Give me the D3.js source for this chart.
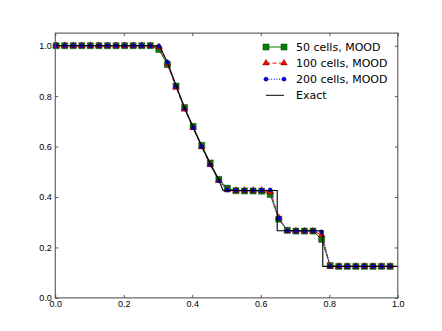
<!DOCTYPE html>
<html>
<head>
<meta charset="utf-8">
<script src="https://cdn.jsdelivr.net/npm/d3@7"></script>
<style>
body { margin: 0; background: #fff; }
svg { display: block; font-family: 'DejaVu Sans', sans-serif; }
.tick text { font-size: 9px; fill: #000; }
.legend-text { font-size: 11px; fill: #000; }
</style>
</head>
<body>
<svg id="chart" width="442" height="331"></svg>
<script>
var cellX = [0.0025, 0.0275, 0.0525, 0.0775, 0.1025, 0.1275, 0.1525, 0.1775, 0.2025, 0.2275,
	0.2525, 0.2775, 0.3025, 0.3275, 0.3525, 0.3775, 0.4025, 0.4275, 0.4525, 0.4775,
	0.5025, 0.5275, 0.5525, 0.5775, 0.6025, 0.6275, 0.6525, 0.6775, 0.7025, 0.7275,
	0.7525, 0.7775, 0.8025, 0.8275, 0.8525, 0.8775, 0.9025, 0.9275, 0.9525, 0.9775];

var cells50 = [1, 1, 1, 1, 1, 1, 1, 1, 1, 1, 1, 1,
	0.985, 0.925, 0.84, 0.755, 0.68, 0.605, 0.535, 0.47, 0.435,
	0.425, 0.424, 0.424, 0.423, 0.41, 0.312, 0.268, 0.265, 0.265, 0.265, 0.232, 0.128,
	0.125, 0.125, 0.125, 0.125, 0.125, 0.125, 0.125];

var cells100 = [1, 1, 1, 1, 1, 1, 1, 1, 1, 1, 1, 1,
	0.995, 0.93, 0.835, 0.748, 0.675, 0.598, 0.528, 0.465, 0.428,
	0.426, 0.426, 0.426, 0.426, 0.42, 0.318, 0.266, 0.265, 0.265, 0.265, 0.25, 0.125,
	0.125, 0.125, 0.125, 0.125, 0.125, 0.125, 0.125];

var cells200 = [1, 1, 1, 1, 1, 1, 1, 1, 1, 1, 1, 1,
	0.998, 0.935, 0.838, 0.75, 0.675, 0.6, 0.528, 0.465, 0.427,
	0.426, 0.426, 0.426, 0.426, 0.428, 0.316, 0.266, 0.265, 0.265, 0.265, 0.262, 0.125,
	0.125, 0.125, 0.125, 0.125, 0.125, 0.125, 0.125];

var exactX = [0, 0.305, 0.33, 0.355, 0.38, 0.405, 0.43, 0.455, 0.475, 0.49, 0.648, 0.648, 0.781, 0.781, 1.0];
var exactY = [1, 1, 0.925, 0.835, 0.745, 0.668, 0.594, 0.525, 0.474, 0.426, 0.426, 0.266, 0.266, 0.125, 0.125];

var xTicks = [0, 0.2, 0.4, 0.6, 0.8, 1.0];
var yTicks = [0, 0.2, 0.4, 0.6, 0.8, 1.0];
var legendLabels = ['50 cells, MOOD', '100 cells, MOOD', '200 cells, MOOD', 'Exact'];

var plotLeft = 55.25, plotRight = 397.8, plotTop = 33.1, plotBottom = 297.9;

var svg = d3.select('#chart');

var x = d3.scaleLinear().domain([0, 1]).range([plotLeft, plotRight]);
var y = d3.scaleLinear().domain([0, 1.05]).range([plotBottom, plotTop]);

var series = [
	{name: legendLabels[0], vals: cells50, color: '#008000', dash: null, symbol: d3.symbolSquare, size: 38},
	{name: legendLabels[1], vals: cells100, color: '#ff0000', dash: '4,2.5', symbol: d3.symbolTriangle, size: 20},
	{name: legendLabels[2], vals: cells200, color: '#0000ff', dash: '1,1.6', symbol: d3.symbolCircle, size: 14}
];

var line = d3.line()
	.x(d => x(d[0]))
	.y(d => y(d[1]));

var plot = svg.append('g');

series.forEach(function(s){
	var pts = cellX.map((cx, i) => [cx, s.vals[i]]);
	plot.append('path')
		.attr('d', line(pts))
		.attr('fill', 'none')
		.attr('stroke', s.color)
		.attr('stroke-width', 1)
		.attr('stroke-dasharray', s.dash);
	plot.selectAll(null)
		.data(pts)
		.enter()
		.append('path')
			.attr('transform', d => 'translate(' + x(d[0]) + ',' + y(d[1]) + ')')
			.attr('d', d3.symbol().type(s.symbol).size(s.size))
			.attr('fill', s.color)
			.attr('stroke', '#000')
			.attr('stroke-width', 0.5)
			.attr('stroke-opacity', 0.6);
});

plot.append('path')
	.attr('d', line(exactX.map((ex, i) => [ex, exactY[i]])))
	.attr('fill', 'none')
	.attr('stroke', '#000')
	.attr('stroke-width', 1.1);

// axes, ticks pointing inward on all four sides
svg.append('g')
	.attr('transform', 'translate(0,' + plotBottom + ')')
	.call(d3.axisBottom(x).tickValues(xTicks).tickFormat(d3.format('.1f')).tickSizeInner(-3).tickSizeOuter(0).tickPadding(3));
svg.append('g')
	.attr('transform', 'translate(0,' + plotTop + ')')
	.call(d3.axisTop(x).tickValues(xTicks).tickFormat('').tickSizeInner(-3).tickSizeOuter(0));
svg.append('g')
	.attr('transform', 'translate(' + plotLeft + ',0)')
	.call(d3.axisLeft(y).tickValues(yTicks).tickFormat(d3.format('.1f')).tickSizeInner(-3).tickSizeOuter(0).tickPadding(3.5));
svg.append('g')
	.attr('transform', 'translate(' + plotRight + ',0)')
	.call(d3.axisRight(y).tickValues(yTicks).tickFormat('').tickSizeInner(-3).tickSizeOuter(0));

svg.selectAll('.domain').remove();
svg.selectAll('.tick line').attr('stroke', '#333').attr('stroke-width', 0.8);
svg.selectAll('.tick text').attr('font-family', null).attr('font-size', null);

svg.append('rect')
	.attr('x', plotLeft)
	.attr('y', plotTop)
	.attr('width', plotRight - plotLeft)
	.attr('height', plotBottom - plotTop)
	.attr('fill', 'none')
	.attr('stroke', '#444')
	.attr('stroke-width', 1);

// legend
var legend = svg.append('g').attr('transform', 'translate(266,47)');

var items = legend.selectAll('g')
	.data(legendLabels)
	.enter()
	.append('g')
		.attr('transform', (d, i) => 'translate(0,' + (i * 16.1) + ')');

items.append('line')
	.attr('x1', 0)
	.attr('x2', 18)
	.attr('y1', 0)
	.attr('y2', 0)
	.attr('stroke', (d, i) => i < 3 ? series[i].color : '#000')
	.attr('stroke-width', 1)
	.attr('stroke-dasharray', (d, i) => i < 3 ? series[i].dash : null);

items.each(function(d, i){
	if (i > 2) return;
	var s = series[i];
	d3.select(this).selectAll('path')
		.data([0, 18])
		.enter()
		.append('path')
			.attr('transform', p => 'translate(' + p + ',0)')
			.attr('d', d3.symbol().type(s.symbol).size(s.size))
			.attr('fill', s.color)
			.attr('stroke', '#000')
			.attr('stroke-width', 0.5)
			.attr('stroke-opacity', 0.6);
});

items.append('text')
	.attr('class', 'legend-text')
	.attr('x', 30)
	.attr('y', 0)
	.attr('dy', '0.36em')
	.text(d => d);
</script>
</body>
</html>
